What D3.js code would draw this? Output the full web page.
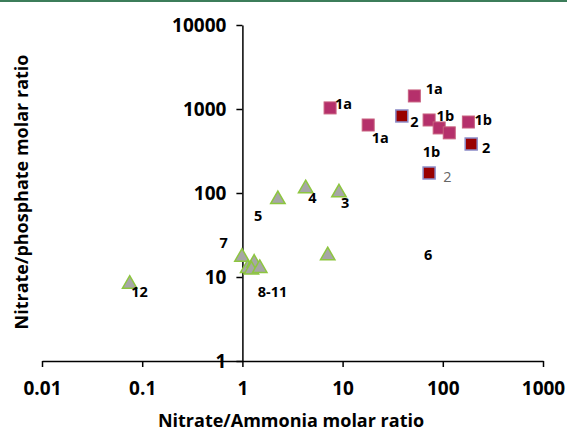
<!DOCTYPE html>
<html><head><meta charset="utf-8">
<script src="https://cdn.jsdelivr.net/npm/d3@7"></script>
<style>body{margin:0;background:#fff;} svg{display:block;} text{font-family:"Open Sans","DejaVu Sans",sans-serif;font-weight:bold;fill:#000;}</style>
</head><body><svg id="c" width="567" height="431"></svg>
<script>
const xTicks = [0.01, 0.1, 1, 10, 100, 1000];
const yTicks = [1, 10, 100, 1000, 10000];
const group1 = [[7.5, 1030], [18, 645], [52, 1430], [73, 740], [92, 595], [116, 520], [180, 700]];
const group2 = [[39, 826], [192, 383], [73, 173]];
const group3 = [[0.99, 17.3], [1.13, 12.7], [1.31, 14.7], [1.23, 12.2], [1.49, 12.7], [2.26, 84], [4.28, 113], [9.2, 101], [7.1, 18], [0.075, 8.25]];
const labelText = ["1a", "1a", "1a", "1b", "1b", "1b", "2", "2", "2", "5", "4", "3", "7", "8-11", "12", "6"];
const labelX = [10.2, 23.8, 82, 106, 253, 77, 52, 271, 111, 1.44, 5.0, 10.6, 0.65, 2.0, 0.094, 71.5];
const labelY = [1150, 452, 1730, 826, 740, 308, 700, 343, 155, 53, 87, 76, 25.4, 6.6, 6.6, 18.3];
const labelFaint = [false, false, false, false, false, false, false, false, true, false, false, false, false, false, false, false];

const svg = d3.select("#c");
svg.append("rect").attr("x", 0).attr("y", 0).attr("width", 567).attr("height", 2).attr("fill", "#3c7d5a");

const x = d3.scaleLog().domain([0.01, 1000]).range([42, 543]);
const y = d3.scaleLog().domain([1, 10000]).range([361, 25]);

const xAxis = svg.append("g").attr("transform", `translate(0,${y(1)})`)
  .call(d3.axisBottom(x).tickValues(xTicks).tickFormat(d => String(d)).tickSize(6).tickSizeOuter(0));
xAxis.selectAll("text").attr("font-size", 19).attr("dy", "1.3em");
const yAxis = svg.append("g").attr("transform", `translate(${x(1)},0)`)
  .call(d3.axisLeft(y).tickValues(yTicks).tickFormat(d => String(d)).tickSize(6).tickSizeOuter(0));
yAxis.selectAll("text").attr("font-size", 19).attr("x", -16);
svg.selectAll(".domain, .tick line").attr("stroke", "#000").attr("stroke-width", 1.5);
svg.selectAll(".tick text").style("font-family", '"Open Sans",sans-serif').style("font-weight", "bold");

// titles
svg.append("text").attr("x", 291).attr("y", 427).attr("text-anchor", "middle").attr("font-size", 18)
  .text("Nitrate/Ammonia molar ratio");
svg.append("text").attr("transform", "translate(28,192) rotate(-90)").attr("text-anchor", "middle").attr("font-size", 18)
  .text("Nitrate/phosphate molar ratio");

const s = 12;
svg.append("g").selectAll("rect").data(group1).join("rect")
  .attr("x", d => x(d[0]) - s / 2).attr("y", d => y(d[1]) - s / 2).attr("width", s).attr("height", s)
  .attr("fill", "#b5306b").attr("stroke", "#c8607f").attr("stroke-width", 1);
svg.append("g").selectAll("rect").data(group2).join("rect")
  .attr("x", d => x(d[0]) - s / 2).attr("y", d => y(d[1]) - s / 2).attr("width", s).attr("height", s)
  .attr("fill", "#990000").attr("stroke", "#8c8cc8").attr("stroke-width", 1.5);
const tri = d3.symbol().type(d3.symbolTriangle).size(90);
svg.append("g").selectAll("path").data(group3).join("path")
  .attr("d", tri).attr("transform", d => `translate(${x(d[0])},${y(d[1])})`)
  .attr("fill", "#a6a6a6").attr("stroke", "#8dc63f").attr("stroke-width", 1.5);

svg.append("g").selectAll("text").data(labelText).join("text")
  .attr("x", (d, i) => x(labelX[i])).attr("y", (d, i) => y(labelY[i]))
  .attr("dy", "0.35em").attr("text-anchor", "middle").attr("font-size", 14.5)
  .style("font-weight", (d, i) => labelFaint[i] ? "normal" : "bold")
  .style("fill", (d, i) => labelFaint[i] ? "#666" : "#000")
  .text(d => d);
</script></body></html>
